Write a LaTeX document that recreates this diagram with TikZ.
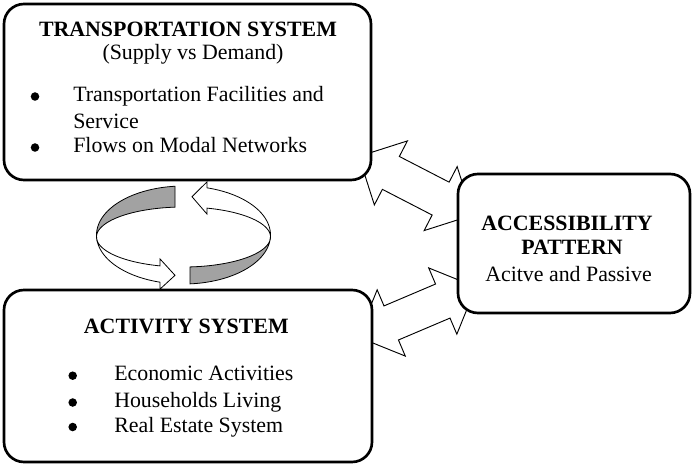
\documentclass[tikz,border=0pt]{standalone}
\usepackage{fontspec}
\setmainfont{Liberation Serif}
\definecolor{ringgray}{RGB}{162,162,162}
\begin{document}
\begin{tikzpicture}[x=0.75pt,y=-0.75pt,
  panel/.style={draw=black, line width=2pt, rounded corners=15pt, fill=white,
    inner sep=0pt, outer sep=0pt, anchor=north west},
  blockarrow/.style={draw=black, line width=0.7pt, fill=white, line join=miter},
  band/.style={draw=black, line width=0.6pt, fill=ringgray},
  ringarrow/.style={draw=black, line width=0.6pt, fill=white, line join=miter},
  txt/.style={font=\fontsize{16.4}{20}\selectfont, inner sep=0pt, anchor=base},
  txtw/.style={txt, anchor=base west},
  heading/.style={font=\fontsize{16.4}{20}\selectfont\bfseries, inner sep=0pt, anchor=base},
  dot/.style={circle, fill=black, inner sep=0pt, minimum size=6.4pt},
]
\useasboundingbox (0,0) rectangle (692,464);

% two-headed block arrows between the systems and the accessibility pattern
\coordinate (linkUpper) at (415.75,185.75);
\coordinate (linkLower) at (417,312);
\begin{scope}[shift={(linkUpper)}, rotate=-27.3]
  \draw[blockarrow] (-64,0) -- (-28,-36) -- (-28,-18.5) -- (28,-18.5) -- (28,-36)
    -- (64,0) -- (28,36) -- (28,18.5) -- (-28,18.5) -- (-28,36) -- cycle;
\end{scope}
\begin{scope}[shift={(linkLower)}, rotate=23]
  \draw[blockarrow] (-64,0) -- (-28,-36) -- (-28,-18.5) -- (28,-18.5) -- (28,-36)
    -- (64,0) -- (28,36) -- (28,18.5) -- (-28,18.5) -- (-28,36) -- cycle;
\end{scope}

% the three system boxes
\node[panel, minimum width=275.25pt, minimum height=132pt] (transport) at (4,4) {};
\node[panel, minimum width=276pt, minimum height=129pt] (activity) at (4,290) {};
\node[panel, minimum width=174pt, minimum height=104.25pt] (access) at (458,174) {};

% circular feedback ring: two shaded bands and two curved arrows
\draw[band]
  plot[domain=95.6:186, samples=40] ({183.5+87*cos(\x)},{235-49*sin(\x)})
  -- plot[domain=186:95.6, samples=40] ({183.5+87*cos(\x)},{237-30*sin(\x)})
  -- cycle;
\draw[band]
  plot[domain=274.3:354, samples=40] ({183.5+87*cos(\x)},{235-49*sin(\x)})
  -- plot[domain=354:274.3, samples=40] ({183.5+87*cos(\x)},{237-30*sin(\x)})
  -- cycle;
\draw[ringarrow]
  plot[domain=186:254.3, samples=40] ({183.5+87*cos(\x)},{235-49*sin(\x)})
  -- ({183.5+87*cos(254.3)},{235-49*sin(254.3)+7})
  -- ({183.5+87*cos(264.4)},{236-39.5*sin(264.4)})
  -- ({183.5+87*cos(254.3)},{237-30*sin(254.3)-7})
  -- plot[domain=254.3:186, samples=40] ({183.5+87*cos(\x)},{237-30*sin(\x)})
  -- cycle;
\draw[ringarrow]
  plot[domain=-6:74.3, samples=40] ({183.5+87*cos(\x)},{235-49*sin(\x)})
  -- ({183.5+87*cos(74.3)},{235-49*sin(74.3)-6})
  -- ({183.5+87*cos(84.4)},{236-39.5*sin(84.4)})
  -- ({183.5+87*cos(74.3)},{237-30*sin(74.3)+6})
  -- plot[domain=74.3:-6, samples=40] ({183.5+87*cos(\x)},{237-30*sin(\x)})
  -- cycle;

% transportation system text
\node[heading] (tsTitle) at (188,36.5) {TRANSPORTATION SYSTEM};
\node[txt] (tsSub) at (193,59.5) {(Supply vs Demand)};
\node[dot] (tsDot1) at (35,96.5) {};
\node[txtw] (tsItem1) at (73,101.5) {Transportation Facilities and};
\node[txtw] (tsItem1b) at (73,128) {Service};
\node[dot] (tsDot2) at (35,147.5) {};
\node[txtw] (tsItem2) at (73,152.5) {Flows on Modal Networks};

% activity system text
\node[heading] (asTitle) at (186.3,333.5) {ACTIVITY SYSTEM};
\node[dot] (asDot1) at (72.7,375.7) {};
\node[txtw] (asItem1) at (114,380.7) {Economic Activities};
\node[dot] (asDot2) at (72.7,402.5) {};
\node[txtw] (asItem2) at (114,407.5) {Households Living};
\node[dot] (asDot3) at (72.7,427) {};
\node[txtw] (asItem3) at (114,432) {Real Estate System};

% accessibility pattern text
\node[heading] (apTitle1) at (567,230.7) {ACCESSIBILITY};
\node[heading] (apTitle2) at (572,254.3) {PATTERN};
\node[txt] (apSub) at (568.5,281) {Acitve and Passive};
\end{tikzpicture}
\end{document}
